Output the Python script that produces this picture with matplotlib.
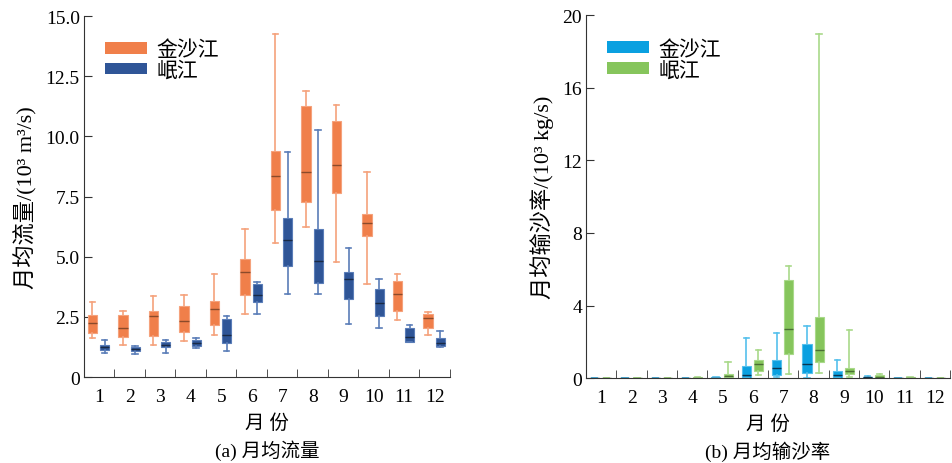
import matplotlib
matplotlib.use('Agg')
import matplotlib.pyplot as plt
from matplotlib.patches import Patch

plt.rcParams['font.family'] = ['Liberation Serif', 'Noto Sans CJK SC']
plt.rcParams['axes.unicode_minus'] = False

months = list(range(1, 13))
month_labels = [str(m) for m in months]

# monthly discharge (10^3 m3/s): lower whisker, q1, median, q3, upper whisker
jsj_flow_lo = [1.61, 1.33, 1.34, 1.50, 1.74, 2.62, 5.58, 6.24, 4.79, 3.86, 2.38, 1.76]
jsj_flow_q1 = [1.83, 1.68, 1.72, 1.88, 2.17, 3.42, 6.94, 7.27, 7.64, 5.87, 2.75, 2.05]
jsj_flow_md = [2.24, 2.04, 2.53, 2.31, 2.81, 4.35, 8.34, 8.53, 8.81, 6.38, 3.44, 2.44]
jsj_flow_q3 = [2.58, 2.59, 2.73, 2.96, 3.15, 4.90, 9.39, 11.25, 10.64, 6.79, 3.99, 2.60]
jsj_flow_hi = [3.10, 2.73, 3.35, 3.39, 4.27, 6.14, 14.26, 11.90, 11.29, 8.50, 4.29, 2.71]

mj_flow_lo = [1.00, 0.96, 0.98, 1.19, 1.09, 2.62, 3.44, 3.44, 2.20, 2.02, 1.45, 1.23]
mj_flow_q1 = [1.11, 1.07, 1.23, 1.30, 1.43, 3.10, 4.62, 3.89, 3.24, 2.52, 1.47, 1.28]
mj_flow_md = [1.23, 1.16, 1.32, 1.40, 1.76, 3.39, 5.69, 4.82, 4.07, 3.06, 1.68, 1.40]
mj_flow_q3 = [1.34, 1.23, 1.44, 1.54, 2.41, 3.86, 6.61, 6.14, 4.35, 3.64, 2.04, 1.61]
mj_flow_hi = [1.55, 1.30, 1.52, 1.63, 2.52, 3.93, 9.35, 10.25, 5.37, 4.06, 2.17, 1.92]

# monthly sediment transport rate (10^3 kg/s)
jsj_sed_lo = [0.00, 0.00, 0.00, 0.00, 0.00, 0.00, 0.05, 0.02, 0.00, 0.00, 0.00, 0.00]
jsj_sed_q1 = [0.00, 0.00, 0.00, 0.00, 0.01, 0.00, 0.18, 0.28, 0.03, 0.01, 0.00, 0.00]
jsj_sed_md = [0.00, 0.00, 0.00, 0.01, 0.02, 0.17, 0.55, 0.77, 0.17, 0.04, 0.01, 0.00]
jsj_sed_q3 = [0.01, 0.00, 0.00, 0.02, 0.04, 0.68, 0.99, 1.87, 0.37, 0.08, 0.02, 0.01]
jsj_sed_hi = [0.02, 0.01, 0.01, 0.03, 0.06, 2.21, 2.50, 2.85, 0.97, 0.12, 0.03, 0.02]

mj_sed_lo = [0.00, 0.00, 0.00, 0.00, 0.02, 0.17, 0.22, 0.26, 0.06, 0.01, 0.00, 0.00]
mj_sed_q1 = [0.00, 0.00, 0.00, 0.01, 0.04, 0.37, 1.32, 0.86, 0.22, 0.03, 0.01, 0.00]
mj_sed_md = [0.01, 0.01, 0.01, 0.03, 0.10, 0.77, 2.68, 1.56, 0.37, 0.08, 0.02, 0.01]
mj_sed_q3 = [0.02, 0.02, 0.02, 0.05, 0.22, 0.99, 5.40, 3.35, 0.55, 0.17, 0.04, 0.02]
mj_sed_hi = [0.03, 0.03, 0.03, 0.08, 0.86, 1.56, 6.19, 18.97, 2.65, 0.25, 0.06, 0.03]


def stats(lo, q1, md, q3, hi):
    return [dict(whislo=a, q1=b, med=c, q3=d, whishi=e, fliers=[])
            for a, b, c, d, e in zip(lo, q1, md, q3, hi)]


def draw(ax, st, offset, face, light, dark):
    pos = [m + offset for m in months]
    ax.bxp(st, positions=pos, widths=0.3, capwidths=0.18, patch_artist=True,
           showfliers=False,
           boxprops=dict(facecolor=face, edgecolor=light, linewidth=0.8),
           whiskerprops=dict(color=light, linewidth=1.2),
           capprops=dict(color=light, linewidth=1.2),
           medianprops=dict(color=dark, linewidth=1.0))


def style(ax, ymax, yticks, yticklabels, ylabel, sub, legend_colors):
    ax.set_xlim(0.5, 12.5)
    ax.set_ylim(0, ymax)
    ax.spines['top'].set_visible(False)
    ax.spines['right'].set_visible(False)
    ax.spines['left'].set_color('#333333')
    ax.spines['bottom'].set_color('#333333')
    ax.set_yticks(yticks)
    ax.set_yticklabels(yticklabels, fontsize=14)
    ax.set_xticks(months)
    ax.set_xticklabels(month_labels, fontsize=14)
    ax.tick_params(axis='x', which='major', length=0, pad=8)
    ax.set_xticks([m + 0.5 for m in months], minor=True)
    ax.tick_params(axis='x', which='minor', direction='in', length=6, color='#333333')
    ax.tick_params(axis='y', direction='in', length=6, color='#333333', pad=3)
    ax.set_ylabel(ylabel, fontsize=16, labelpad=6)
    ax.set_xlabel('月 份', fontsize=14, labelpad=6)
    ax.text(0.5, -0.2, sub, transform=ax.transAxes, ha='center', va='center', fontsize=14)
    handles = [Patch(facecolor=legend_colors[0]), Patch(facecolor=legend_colors[1])]
    ax.legend(handles, ['金沙江', '岷江'], loc='upper left', bbox_to_anchor=(0.035, 0.955),
              frameon=False, fontsize=15, handlelength=2.0, handleheight=0.5,
              handletextpad=0.45, labelspacing=0.05, borderaxespad=0)


fig = plt.figure(figsize=(9.53, 4.64), dpi=100)
ax1 = fig.add_axes([0.0881, 0.1853, 0.384, 0.778])
ax2 = fig.add_axes([0.615, 0.183, 0.382, 0.782])

orange, orange_l, orange_d = '#F07F4A', '#F5A27C', '#8A4A2A'
navy, navy_l, navy_d = '#2F5597', '#5A7DB8', '#1A2A45'
sky, sky_l, sky_d = '#0AA0E0', '#55C0EC', '#0A3550'
green, green_l, green_d = '#86C55C', '#A9D98A', '#4A6E35'

draw(ax1, stats(jsj_flow_lo, jsj_flow_q1, jsj_flow_md, jsj_flow_q3, jsj_flow_hi), -0.22, orange, orange_l, orange_d)
draw(ax1, stats(mj_flow_lo, mj_flow_q1, mj_flow_md, mj_flow_q3, mj_flow_hi), 0.18, navy, navy_l, navy_d)
style(ax1, 15, [0, 2.5, 5, 7.5, 10, 12.5, 15], ['0', '2.5', '5.0', '7.5', '10.0', '12.5', '15.0'],
      '月均流量/(10³ m³/s)', '(a) 月均流量', [orange, navy])

draw(ax2, stats(jsj_sed_lo, jsj_sed_q1, jsj_sed_md, jsj_sed_q3, jsj_sed_hi), -0.22, sky, sky_l, sky_d)
draw(ax2, stats(mj_sed_lo, mj_sed_q1, mj_sed_md, mj_sed_q3, mj_sed_hi), 0.18, green, green_l, green_d)
style(ax2, 20, [0, 4, 8, 12, 16, 20], ['0', '4', '8', '12', '16', '20'],
      '月均输沙率/(10³ kg/s)', '(b) 月均输沙率', [sky, green])

fig.savefig('out.png', dpi=100)
